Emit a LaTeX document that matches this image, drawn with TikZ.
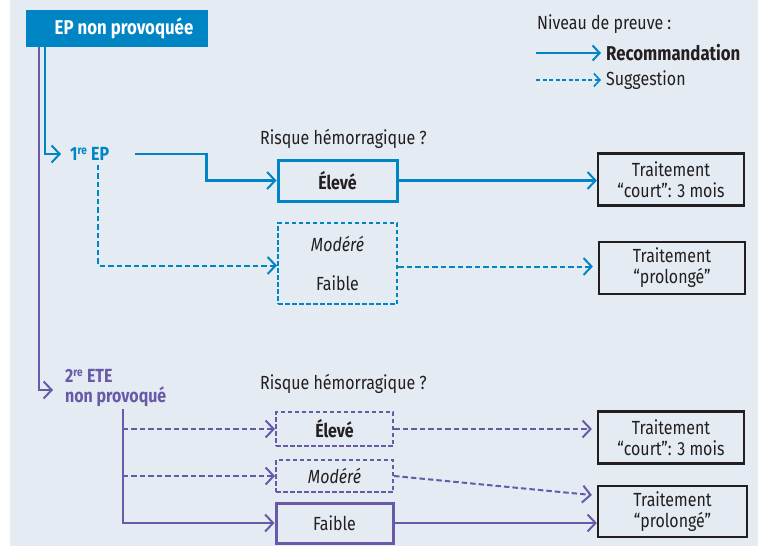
\documentclass[tikz,border=0pt]{standalone}
\usepackage{fontspec}
\setmainfont{Fira Sans}[FakeStretch=0.84]
\usetikzlibrary{arrows.meta}
\definecolor{epblue}{RGB}{0,133,196}
\definecolor{etepurple}{RGB}{104,90,168}
\definecolor{bgpanel}{RGB}{228,235,242}
\definecolor{textdark}{RGB}{35,31,32}
\tikzset{
  tip/.style={-{Straight Barb[length=8pt,width=17pt,line width=2pt]}},
  reco/.style={line width=2.4pt,tip},
  sugg/.style={line width=2pt,dash pattern=on 5.5pt off 3pt,tip},
  choice/.style={line width=3pt,minimum width=119pt,inner sep=0pt,text=textdark,align=center},
  choicedash/.style={choice,line width=2pt,dash pattern=on 4.5pt off 2.5pt},
  treat/.style={draw=textdark,line width=2.2pt,minimum width=146pt,minimum height=52pt,
    align=center,inner sep=0pt,text=textdark,font=\fontsize{19}{21}\selectfont},
  plain/.style={text=textdark,font=\fontsize{19}{21}\selectfont,inner sep=0pt},
}
\begin{document}
\begin{tikzpicture}[x=1pt,y=-1pt,font=\fontsize{19}{21}\selectfont]
\useasboundingbox (0,0) rectangle (758,546);
\fill[bgpanel] (10,0) rectangle (758,546);

% title and legend
\node[fill=epblue,text=white,font=\fontsize{20}{22}\selectfont\bfseries,
  minimum width=182pt,minimum height=37pt,inner sep=0pt] (title) at (117,28.5) {\hspace*{14pt}EP non provoquée};
\node[plain,anchor=west] (legtitle) at (537,24) {Niveau de preuve :};
\node[plain,anchor=west,font=\fontsize{20}{22}\selectfont\bfseries] (legreco) at (606,53) {Recommandation};
\node[plain,anchor=west] (legsugg) at (606,80) {Suggestion};
\coordinate (legA) at (536,53);
\coordinate (legB) at (536,80);
\draw[reco,epblue,-{Straight Barb[length=7pt,width=15pt,line width=2pt]}] (legA) -- ([xshift=-5pt]legreco.west);
\draw[sugg,epblue,line width=1.6pt,dash pattern=on 4pt off 2.5pt,-{Straight Barb[length=6pt,width=13pt,line width=1.6pt]}] (legB) -- ([xshift=-5pt]legsugg.west);

% first EP
\node[anchor=west,inner sep=0pt,text=epblue,font=\fontsize{19}{21}\selectfont\bfseries] (epone) at (70,154) {1\textsuperscript{\fontsize{12}{12}\selectfont re} EP};
\node[plain,anchor=west] (riskone) at (260,139) {Risque hémorragique ?};
\node[choice,draw=epblue,minimum height=41pt,font=\fontsize{19}{21}\selectfont\bfseries] (highone) at (337.5,180.5) {Élevé};
\node[choicedash,draw=epblue,minimum height=81pt] (lowone) at (337.5,263.5) {\textit{Modéré}\\[18pt]Faible};
\node[treat] (shortone) at (671,179.5) {Traitement\\“court”: 3 mois};
\node[treat] (longone) at (672,268) {Traitement\\“prolongé”};

\draw[reco,epblue] ([xshift=19pt]title.south west) |- ([xshift=-9pt]epone.west);
\draw[reco,epblue] ([xshift=26pt]epone.east) -- ++(71,0) |- (highone.west);
\draw[sugg,epblue] ([xshift=-11pt,yshift=-4pt]epone.south east) |- ([yshift=-2pt]lowone.west);
\draw[reco,epblue] (highone.east) -- (highone.east -| shortone.west);
\draw[sugg,epblue,shorten >=5pt] ([yshift=-3pt]lowone.east) -- ([yshift=-3pt]lowone.east -| longone.west);

% second ETE
\node[anchor=west,inner sep=0pt,align=left,text=etepurple,font=\fontsize{19}{20}\selectfont\bfseries] (eteone) at (65,388) {2\textsuperscript{\fontsize{12}{12}\selectfont re} ETE\\non provoqué};
\node[plain,anchor=west] (risktwo) at (260,384) {Risque hémorragique ?};
\node[choicedash,draw=etepurple,minimum width=117pt,minimum height=34pt,font=\fontsize{19}{21}\selectfont\bfseries] (hightwo) at (334.5,429) {Élevé};
\node[choicedash,draw=etepurple,minimum width=117pt,minimum height=32pt] (modtwo) at (334.5,476) {\textit{Modéré}};
\node[choice,draw=etepurple,minimum width=117pt,minimum height=40pt] (lowtwo) at (334.5,523) {Faible};
\node[treat] (shorttwo) at (671,437.5) {Traitement\\“court”: 3 mois};
\node[treat,minimum width=149pt,minimum height=51pt] (longtwo) at (672.5,511.5) {Traitement\\“prolongé”};

\coordinate (trunk) at ([xshift=7pt,yshift=-2pt]eteone.south);
\draw[reco,etepurple] ([xshift=13pt]title.south west) |- ([xshift=-12pt,yshift=-2pt]eteone.west);
\draw[reco,etepurple] (trunk) |- (lowtwo.west);
\draw[sugg,etepurple] (trunk |- hightwo.west) -- (hightwo.west);
\draw[sugg,etepurple] (trunk |- modtwo.west) -- (modtwo.west);
\draw[sugg,etepurple,shorten >=5pt] (hightwo.east) -- (hightwo.east -| shorttwo.west);
\draw[sugg,etepurple,shorten >=5pt] (modtwo.east) -- ([yshift=16pt]longtwo.west);
\draw[reco,etepurple] (lowtwo.east) -- (lowtwo.east -| longtwo.west);
\end{tikzpicture}
\end{document}
